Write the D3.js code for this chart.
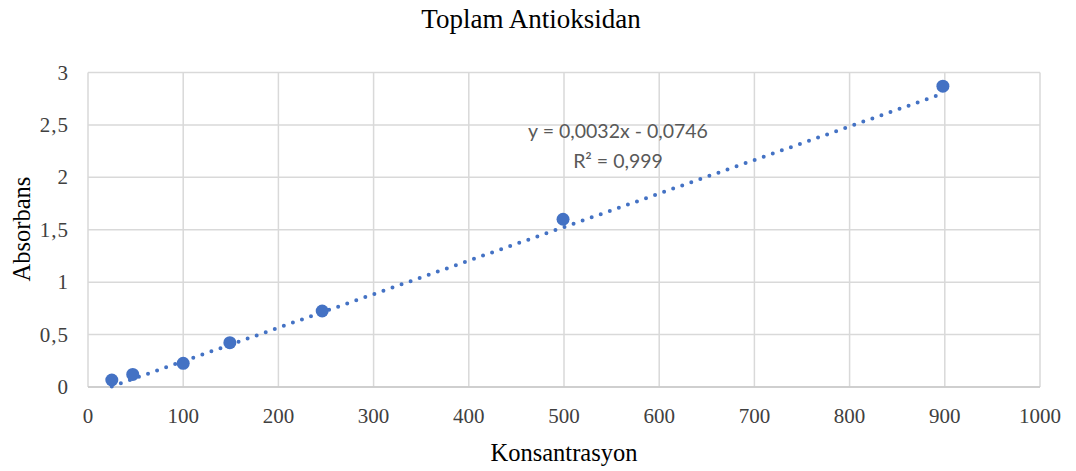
<!DOCTYPE html>
<html>
<head>
<meta charset="utf-8">
<script src="https://cdn.jsdelivr.net/npm/d3@7"></script>
<style>
  body { margin: 0; background: #fff; }
</style>
</head>
<body>
<script>
// data
var konsantrasyon = [25, 47, 100, 149, 246, 499, 898];
var absorbans = [0.067, 0.12, 0.226, 0.423, 0.725, 1.60, 2.87];
var xTicks = [0, 100, 200, 300, 400, 500, 600, 700, 800, 900, 1000];
var yTicks = [0, 0.5, 1, 1.5, 2, 2.5, 3];
var egim = 0.0032, kesisim = -0.0746;
var denklem = ["y = 0,0032x - 0,0746", "R² = 0,999"];

var W = 1076, H = 471;
var margin = {left: 88, right: 36, top: 72.5, bottom: 84};

var svg = d3.select("body").append("svg")
  .attr("width", W)
  .attr("height", H);

var x = d3.scaleLinear().domain([0, 1000]).range([margin.left, W - margin.right]);
var y = d3.scaleLinear().domain([0, 3]).range([H - margin.bottom, margin.top]);

var fmt = function(d) { return String(d).replace(".", ","); };

// grid
svg.append("g").selectAll("line.h")
  .data(yTicks)
  .enter().append("line")
    .attr("x1", x(0)).attr("x2", x(1000))
    .attr("y1", function(d) { return y(d); })
    .attr("y2", function(d) { return y(d); })
    .style("stroke", "#d9d9d9")
    .style("stroke-width", 1.5);

svg.append("g").selectAll("line.v")
  .data(xTicks)
  .enter().append("line")
    .attr("y1", y(0)).attr("y2", y(3))
    .attr("x1", function(d) { return x(d); })
    .attr("x2", function(d) { return x(d); })
    .style("stroke", "#d9d9d9")
    .style("stroke-width", 1.5);

// bottom axis line
svg.append("line")
  .attr("x1", x(0)).attr("x2", x(1000))
  .attr("y1", y(0)).attr("y2", y(0))
  .style("stroke", "#c8c8c8")
  .style("stroke-width", 1.5);

// tick labels
svg.append("g").selectAll("text")
  .data(xTicks)
  .enter().append("text")
    .attr("x", function(d) { return x(d); })
    .attr("y", y(0) + 36)
    .attr("text-anchor", "middle")
    .style("font-family", "'Liberation Serif', 'Times New Roman', serif")
    .style("font-size", "21px")
    .style("fill", "#404040")
    .text(function(d) { return d; });

svg.append("g").selectAll("text")
  .data(yTicks)
  .enter().append("text")
    .attr("x", 69)
    .attr("y", function(d) { return y(d) + 7; })
    .attr("text-anchor", "end")
    .style("font-family", "'Liberation Serif', 'Times New Roman', serif")
    .style("font-size", "21px")
    .style("letter-spacing", "1px")
    .style("fill", "#404040")
    .text(fmt);

// trendline
svg.append("line")
  .attr("x1", x(d3.min(konsantrasyon)))
  .attr("y1", y(egim * d3.min(konsantrasyon) + kesisim))
  .attr("x2", x(d3.max(konsantrasyon)))
  .attr("y2", y(egim * d3.max(konsantrasyon) + kesisim))
  .style("stroke", "#4472c4")
  .style("stroke-width", 4)
  .style("stroke-linecap", "round")
  .style("stroke-dasharray", "0 9.6");

// points
svg.append("g").selectAll("circle")
  .data(konsantrasyon)
  .enter().append("circle")
    .attr("cx", function(d) { return x(d); })
    .attr("cy", function(d, i) { return y(absorbans[i]); })
    .attr("r", 6.5)
    .style("fill", "#4472c4");

// equation label
svg.append("g").selectAll("text")
  .data(denklem)
  .enter().append("text")
    .attr("x", 618)
    .attr("y", function(d, i) { return 138 + i * 30; })
    .attr("text-anchor", "middle")
    .style("font-family", "Lato, 'Liberation Sans', sans-serif")
    .style("font-size", "19.5px")
    .style("fill", "#595959")
    .text(function(d) { return d; });

// titles
svg.append("text")
  .attr("x", 531).attr("y", 28)
  .attr("text-anchor", "middle")
  .style("font-family", "'Liberation Serif', 'Times New Roman', serif")
  .style("font-size", "27px")
  .style("fill", "#000")
  .text("Toplam Antioksidan");

svg.append("text")
  .attr("x", 564).attr("y", 461)
  .attr("text-anchor", "middle")
  .style("font-family", "'Liberation Serif', 'Times New Roman', serif")
  .style("font-size", "24.5px")
  .style("fill", "#000")
  .text("Konsantrasyon");

svg.append("text")
  .attr("transform", "translate(30,229) rotate(-90)")
  .attr("text-anchor", "middle")
  .style("font-family", "'Liberation Serif', 'Times New Roman', serif")
  .style("font-size", "24.5px")
  .style("fill", "#000")
  .text("Absorbans");
</script>
</body>
</html>
